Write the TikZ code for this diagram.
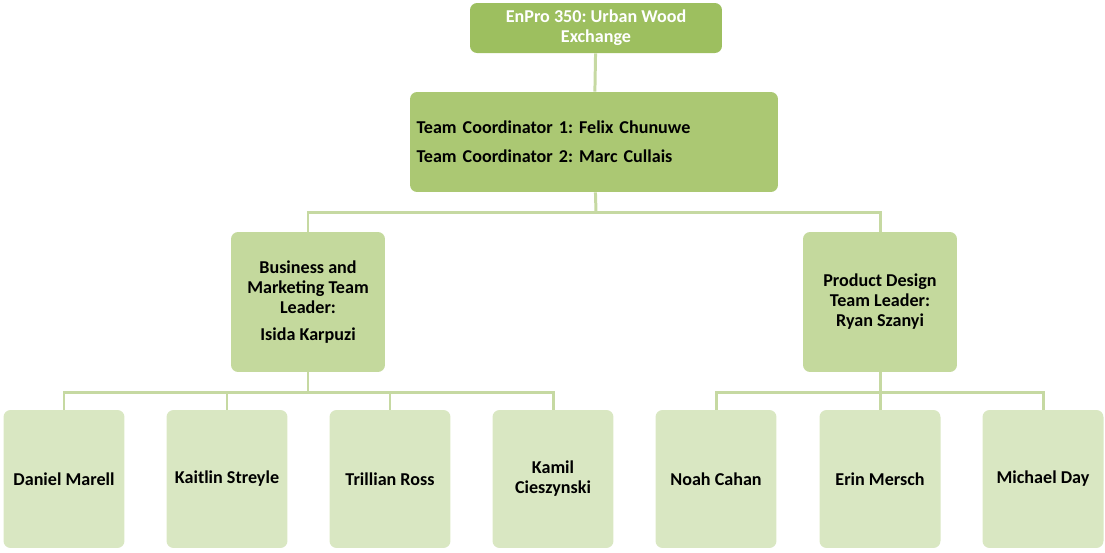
\documentclass[tikz,border=0pt]{standalone}
\usepackage{fontspec}
\setmainfont{Carlito}
\usepackage{tikz}
\usetikzlibrary{positioning,calc}
\definecolor{gtitle}{HTML}{9DBF5F}
\definecolor{gcoord}{HTML}{ABC873}
\definecolor{glead}{HTML}{C4D99D}
\definecolor{gmember}{HTML}{D9E7C2}
\definecolor{glink}{HTML}{C6D9A2}
\frenchspacing
\tikzset{
  obox/.style={rounded corners=4pt, draw=none, align=center, inner sep=3pt,
               font=\bfseries\fontsize{10.3}{11.4}\selectfont},
  otitle/.style={obox, fill=gtitle, text=white,
                 minimum width=5.04cm, minimum height=1.0cm},
  ocoord/.style={obox, fill=gcoord, align=left, text width=7.1cm,
                 font=\bfseries\fontsize{10.3}{16.5}\selectfont,
                 minimum width=7.36cm, minimum height=2.0cm},
  olead/.style={obox, fill=glead, minimum width=3.08cm, minimum height=2.8cm},
  omember/.style={obox, fill=gmember, minimum width=2.42cm, minimum height=2.76cm},
  olink/.style={glink, line width=1.7pt},
}

\begin{document}
\begin{tikzpicture}[x=0.02cm,y=-0.02cm]
  \useasboundingbox (0,0) rectangle (1105,552);

  % bars
  \coordinate (bar0) at (596,212);
  \coordinate (bar1) at (308,392);
  \coordinate (bar2) at (880,392);

  % top
  \node[otitle] (title) at (596,28) {EnPro 350: Urban Wood\\Exchange};
  \node[ocoord] (coord) at (594,142)
    {Team Coordinator 1: Felix Chunuwe\\Team Coordinator 2: Marc Cullais};

  % leaders
  \node[olead] (biz) at (308,302)
    {Business and\\Marketing Team\\Leader:\\[4pt]Isida Karpuzi};
  \node[olead] (prod) at (880,302)
    {Product Design\\Team Leader:\\Ryan Szanyi};

  % members
  \foreach \n/\x/\t in {dan/64/Daniel Marell, kai/227/Kaitlin Streyle,
                        tri/390/Trillian Ross, kam/553/Kamil\\Cieszynski,
                        noa/716/Noah Cahan, eri/880/Erin Mersch,
                        mic/1043/Michael Day}
    \node[omember] (\n) at (\x,479) {\t};

  % links
  \draw[olink] (title) -- (coord);
  \draw[olink] (coord) -- (bar0);
  \foreach \b in {biz,prod}
    \draw[olink] (bar0) -| (\b);
  \draw[olink] (biz) -- (bar1);
  \foreach \m in {dan,kai,tri,kam}
    \draw[olink] (bar1) -| (\m);
  \draw[olink] (prod) -- (bar2);
  \foreach \m in {noa,eri,mic}
    \draw[olink] (bar2) -| (\m);

\end{tikzpicture}
\end{document}
